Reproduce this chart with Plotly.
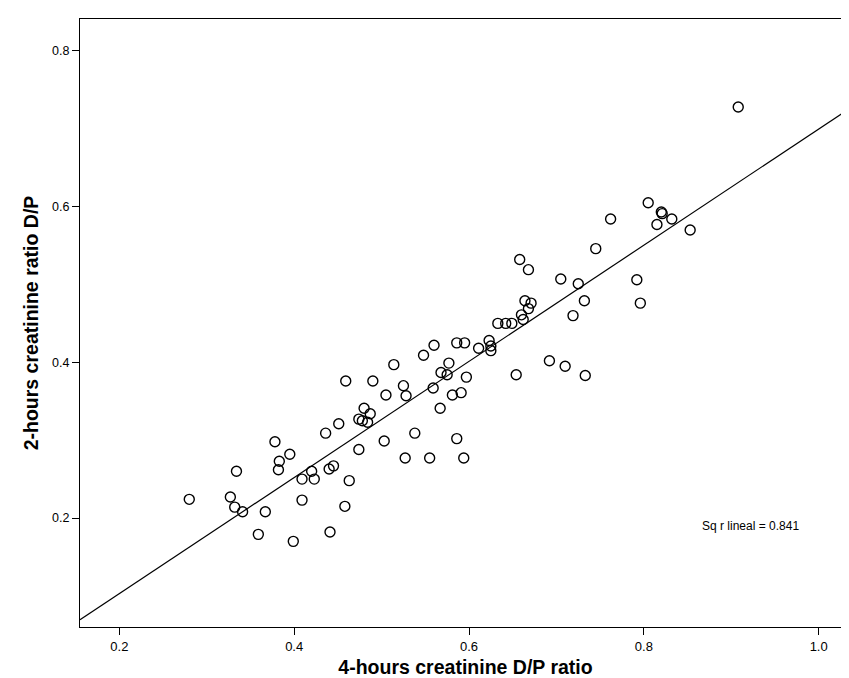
import numpy as np
import plotly.graph_objects as go

# 4-hours creatinine D/P ratio (x) and 2-hours creatinine ratio D/P (y)
d_p_4h = [0.280, 0.327, 0.334, 0.332, 0.341, 0.359, 0.367, 0.378, 0.382, 0.383,
          0.395, 0.399, 0.409, 0.409, 0.420, 0.423, 0.436, 0.440, 0.441, 0.445,
          0.451, 0.459, 0.458, 0.463, 0.474, 0.474, 0.478, 0.480, 0.484, 0.487,
          0.490, 0.503, 0.505, 0.514, 0.525, 0.527, 0.528, 0.538, 0.548, 0.555,
          0.560, 0.559, 0.567, 0.568, 0.575, 0.577, 0.581, 0.586, 0.586, 0.591,
          0.595, 0.594, 0.597, 0.611, 0.623, 0.625, 0.625, 0.633, 0.642, 0.649,
          0.654, 0.658, 0.660, 0.662, 0.664, 0.668, 0.668, 0.671, 0.692, 0.705,
          0.710, 0.719, 0.725, 0.732, 0.733, 0.745, 0.762, 0.792, 0.796, 0.805,
          0.815, 0.820, 0.821, 0.832, 0.853, 0.908]
d_p_2h = [0.224, 0.227, 0.260, 0.214, 0.208, 0.179, 0.208, 0.298, 0.262, 0.273,
          0.282, 0.170, 0.223, 0.250, 0.260, 0.250, 0.309, 0.263, 0.182, 0.267,
          0.321, 0.376, 0.215, 0.248, 0.288, 0.327, 0.325, 0.341, 0.323, 0.334,
          0.376, 0.299, 0.358, 0.397, 0.370, 0.277, 0.357, 0.309, 0.409, 0.277,
          0.422, 0.367, 0.341, 0.387, 0.384, 0.399, 0.358, 0.425, 0.302, 0.361,
          0.425, 0.277, 0.381, 0.418, 0.428, 0.421, 0.415, 0.450, 0.450, 0.450,
          0.384, 0.532, 0.461, 0.455, 0.479, 0.519, 0.469, 0.476, 0.402, 0.507,
          0.395, 0.460, 0.501, 0.479, 0.383, 0.546, 0.584, 0.506, 0.476, 0.605,
          0.577, 0.593, 0.591, 0.584, 0.570, 0.728]

x_ticks = [0.2, 0.4, 0.6, 0.8, 1.0]
x_tick_labels = ["0.2", "0.4", "0.6", "0.8", "1.0"]
y_ticks = [0.2, 0.4, 0.6, 0.8]
y_tick_labels = ["0.2", "0.4", "0.6", "0.8"]
x_range = [0.155, 1.037]
y_range = [0.060, 0.841]
r2_label = "Sq r lineal = 0.841"

# least-squares fit line through the data
xa = np.array(d_p_4h)
ya = np.array(d_p_2h)
fit_slope, fit_intercept = np.polyfit(xa, ya, 1)
line_x = np.array(x_range)
line_y = fit_intercept + fit_slope * line_x

fig = go.Figure()
fig.add_trace(go.Scatter(
    x=line_x, y=line_y, mode="lines",
    line=dict(color="black", width=1.2), hoverinfo="skip", showlegend=False))
fig.add_trace(go.Scatter(
    x=d_p_4h, y=d_p_2h, mode="markers",
    marker=dict(symbol="circle-open", size=10, color="black", line=dict(width=1.4)),
    showlegend=False))

fig.add_annotation(x=0.922, y=0.19, xref="x", yref="y", text=r2_label,
                   showarrow=False, font=dict(family="Liberation Sans, Arial", size=12, color="black"))

fig.update_layout(
    width=849, height=678,
    margin=dict(l=72, r=6, t=11, b=59),
    paper_bgcolor="white", plot_bgcolor="white",
    font=dict(family="Liberation Sans, Arial", color="black"),
)
fig.update_xaxes(
    range=x_range, tickvals=x_ticks, ticktext=x_tick_labels,
    showgrid=False, zeroline=False,
    showline=True, mirror=True, linecolor="black", linewidth=1.2,
    ticks="outside", ticklen=7, tickcolor="black", tickwidth=1.2,
    tickfont=dict(family="Liberation Sans Narrow, Liberation Sans", size=13),
    title=dict(text="<b>4-hours creatinine D/P ratio</b>",
               font=dict(family="Liberation Sans Narrow, Liberation Sans", size=19.5), standoff=7),
)
fig.update_yaxes(
    range=y_range, tickvals=y_ticks, ticktext=y_tick_labels,
    showgrid=False, zeroline=False,
    showline=True, mirror=True, linecolor="black", linewidth=1.2,
    ticks="outside", ticklen=7, tickcolor="black", tickwidth=1.2,
    tickfont=dict(family="Liberation Sans", size=12.5),
    title=dict(text="<b>2-hours creatinine ratio D/P</b>",
               font=dict(family="Liberation Sans Narrow, Liberation Sans", size=19.5), standoff=8),
)

fig.write_html("out.html")
